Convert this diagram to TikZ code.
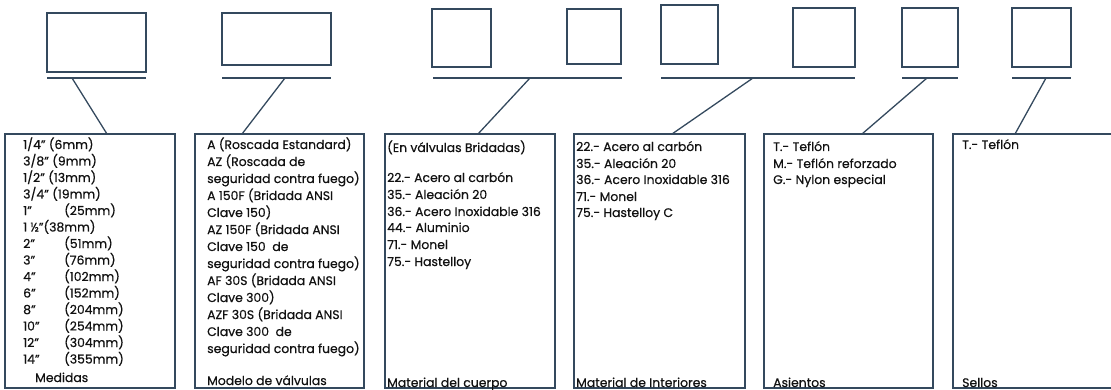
\documentclass[tikz,border=0pt]{standalone}
\usepackage{fontspec}
\setmainfont{Poppins}
\definecolor{ln}{HTML}{34495E}
\definecolor{tx}{HTML}{111111}
\begin{document}
\begin{tikzpicture}[x=1pt,y=-1pt,
  topbox/.style={draw=ln,line width=1.6pt,rectangle,inner sep=0pt},
  bigbox/.style={draw=ln,line width=1.6pt,rectangle,inner sep=0pt,minimum height=254pt},
  rule/.style={draw=ln,line width=1.6pt},
  conn/.style={draw=ln,line width=1.3pt},
  txt/.style={anchor=base west,inner sep=0pt,text=tx,font=\fontsize{12.4}{14}\selectfont\addfontfeature{FakeBold=0.5}}]
\useasboundingbox (0,0) rectangle (1111,390);
\clip (0,0) rectangle (1111,390);
% top boxes
\node[topbox,minimum width=99pt,minimum height=59pt] (T1) at (96.5,42.5) {};
\node[topbox,minimum width=109pt,minimum height=52pt] (T2) at (276.5,39) {};
\node[topbox,minimum width=59pt,minimum height=58pt] (T3) at (461.5,38) {};
\node[topbox,minimum width=54pt,minimum height=55pt] (T4) at (594,36.5) {};
\node[topbox,minimum width=57pt,minimum height=59pt] (T5) at (689.5,34.5) {};
\node[topbox,minimum width=62pt,minimum height=59pt] (T6) at (824,37.5) {};
\node[topbox,minimum width=56pt,minimum height=59pt] (T7) at (930,37.5) {};
\node[topbox,minimum width=59pt,minimum height=59pt] (T8) at (1041.5,37.5) {};
% underlines
\draw[rule] (47,78) -- (146,78);
\draw[rule] (222,78) -- (331,78);
\draw[rule] (433,78) -- (622,78);
\draw[rule] (661,78) -- (855,78);
\draw[rule] (902,78) -- (958,78);
\draw[rule] (1012,78) -- (1071,78);
% bottom boxes
\node[bigbox,minimum width=170pt] (A) at (90,261) {};
\node[bigbox,minimum width=169pt] (B) at (279.5,261) {};
\node[bigbox,minimum width=170pt] (C) at (470,261) {};
\node[bigbox,minimum width=171pt] (D) at (659.5,261) {};
\node[bigbox,minimum width=169pt] (E) at (848.5,261) {};
\node[bigbox,minimum width=170pt] (F) at (1038,261) {};
% connectors
\coordinate (u1) at (72,78);   \coordinate (d1) at (107,134);
\coordinate (u2) at (285,78);  \coordinate (d2) at (242,134);
\coordinate (u3) at (530,78);  \coordinate (d3) at (478,134);
\coordinate (u4) at (753,78);  \coordinate (d4) at (672,134);
\coordinate (u5) at (927,78);  \coordinate (d5) at (862,134);
\coordinate (u6) at (1046,78); \coordinate (d6) at (1015,134);
\foreach \i in {1,...,6} \draw[conn] (u\i) -- (d\i);
% box A
\node[txt] (a1) at (23,149) {1/4" (6mm)};
\node[txt] (a2) at (23,165.5) {3/8" (9mm)};
\node[txt] (a3) at (23,182) {1/2" (13mm)};
\node[txt] (a4) at (23,198.5) {3/4" (19mm)};
\node[txt] (a5) at (23,215) {1"};   \node[txt] (a5b) at (64,215) {(25mm)};
\node[txt] (a6) at (23,231.5) {1 ½"(38mm)};
\node[txt] (a7) at (23,248) {2"};   \node[txt] (a7b) at (64,248) {(51mm)};
\node[txt] (a8) at (23,264.5) {3"}; \node[txt] (a8b) at (64,264.5) {(76mm)};
\node[txt] (a9) at (23,281) {4"};   \node[txt] (a9b) at (64,281) {(102mm)};
\node[txt] (a10) at (23,297.5) {6"}; \node[txt] (a10b) at (64,297.5) {(152mm)};
\node[txt] (a11) at (23,314) {8"};   \node[txt] (a11b) at (64,314) {(204mm)};
\node[txt] (a12) at (23,330.5) {10"}; \node[txt] (a12b) at (64,330.5) {(254mm)};
\node[txt] (a13) at (23,347) {12"};   \node[txt] (a13b) at (64,347) {(304mm)};
\node[txt] (a14) at (23,363.5) {14"}; \node[txt] (a14b) at (64,363.5) {(355mm)};
\node[txt] (a15) at (35,382) {Medidas};
% box B
\node[txt] (b1) at (207,149) {A (Roscada Estandard)};
\node[txt] (b2) at (207,166) {AZ (Roscada de};
\node[txt] (b3) at (207,183) {seguridad contra fuego)};
\node[txt] (b4) at (207,200) {A 150F (Bridada ANSI};
\node[txt] (b5) at (207,217) {Clave 150)};
\node[txt] (b6) at (207,234) {AZ 150F (Bridada ANSI};
\node[txt] (b7) at (207,251) {Clave 150 \ de};
\node[txt] (b8) at (207,268) {seguridad contra fuego)};
\node[txt] (b9) at (207,285) {AF 30S (Bridada ANSI};
\node[txt] (b10) at (207,302) {Clave 300)};
\node[txt] (b11) at (207,319) {AZF 30S (Bridada ANSI};
\node[txt] (b12) at (207,336) {Clave 300 \ de};
\node[txt] (b13) at (207,353) {seguridad contra fuego)};
\node[txt] (b14) at (207,385) {Modelo de válvulas};
% box C
\node[txt] (c1) at (387,152) {(En válvulas Bridadas)};
\node[txt] (c2) at (387,182) {22.- Acero al carbón};
\node[txt] (c3) at (387,199) {35.- Aleación 20};
\node[txt] (c4) at (387,216) {36.- Acero Inoxidable 316};
\node[txt] (c5) at (387,232) {44.- Aluminio};
\node[txt] (c6) at (387,249) {71.- Monel};
\node[txt] (c7) at (387,266) {75.- Hastelloy};
\node[txt] (c8) at (387,387) {Material del cuerpo};
% box D
\node[txt] (e1) at (576,151) {22.- Acero al carbón};
\node[txt] (e2) at (576,168) {35.- Aleación 20};
\node[txt] (e3) at (576,184) {36.- Acero Inoxidable 316};
\node[txt] (e4) at (576,201) {71.- Monel};
\node[txt] (e5) at (576,217) {75.- Hastelloy C};
\node[txt] (e6) at (576,387) {Material de Interiores};
% box E
\node[txt] (f1) at (773,151) {T.- Teflón};
\node[txt] (f2) at (773,168) {M.- Teflón reforzado};
\node[txt] (f3) at (773,184) {G.- Nylon especial};
\node[txt] (f4) at (773,387) {Asientos};
% box F
\node[txt] (g1) at (962,149) {T.- Teflón};
\node[txt] (g2) at (962,387) {Sellos};
\end{tikzpicture}
\end{document}
